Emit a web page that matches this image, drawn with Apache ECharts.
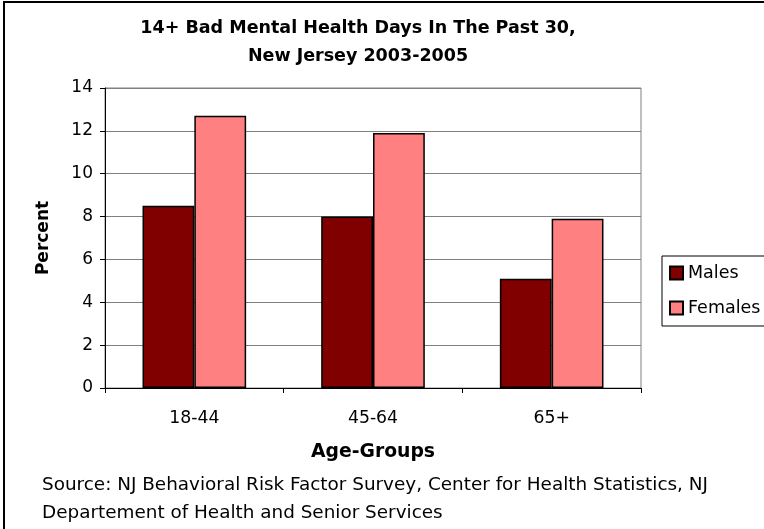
<!DOCTYPE html>
<html><head><meta charset="utf-8">
<script src="https://cdn.jsdelivr.net/npm/echarts@6/dist/echarts.min.js"></script>
<style>html,body{margin:0;padding:0;background:#fff}#c{width:764px;height:529px}</style>
</head><body><div id="c"></div>
<script>
const categories = ['18-44', '45-64', '65+'];
const males = [8.5, 8.0, 5.1];
const females = [12.7, 11.9, 7.9];
const yTicks = [0, 2, 4, 6, 8, 10, 12, 14];
const FONT = '"DejaVu Sans", "Liberation Sans", Arial, sans-serif';

const chart = echarts.init(document.getElementById('c'), null, {renderer: 'canvas'});
chart.setOption({
  backgroundColor: '#fff',
  animation: false,
  textStyle: {fontFamily: FONT},
  title: [
    {text: '14+ Bad Mental Health Days In The Past 30,\nNew Jersey 2003-2005', left: 358, top: 14, textAlign: 'center', padding: 0,
     textStyle: {fontFamily: FONT, fontSize: 17.5, fontWeight: 'bold', color: '#000', lineHeight: 28}},
    {text: 'Source: NJ Behavioral Risk Factor Survey, Center for Health Statistics, NJ\nDepartement of Health and Senior Services', left: 42, top: 471, padding: 0,
     textStyle: {fontFamily: FONT, fontSize: 18.4, fontWeight: 'normal', color: '#000', lineHeight: 28}}
  ],
  graphic: [
    {type: 'line', shape: {x1: 3, y1: 2, x2: 764, y2: 2}, style: {stroke: '#000', lineWidth: 2}, silent: true},
    {type: 'line', shape: {x1: 4, y1: 2, x2: 4, y2: 529}, style: {stroke: '#000', lineWidth: 2}, silent: true}
  ],
  legend: {
    orient: 'vertical', left: 662, top: 256,
    itemWidth: 13, itemHeight: 13, itemGap: 17,
    padding: [8, 30, 9, 7],
    borderColor: '#000', borderWidth: 1,
    icon: 'rect',
    textStyle: {fontFamily: FONT, fontSize: 17.5, color: '#000'},
    data: ['Males', 'Females']
  },
  grid: {left: 105, right: 123, top: 88, bottom: 141, show: true, borderColor: '#808080', borderWidth: 1, backgroundColor: '#fff'},
  xAxis: {
    type: 'category', data: categories,
    name: 'Age-Groups', nameLocation: 'middle', nameGap: 55,
    nameTextStyle: {fontFamily: FONT, fontSize: 18.8, fontWeight: 'bold', color: '#000'},
    axisLine: {lineStyle: {color: '#000', width: 1}},
    axisTick: {show: true, length: 5, lineStyle: {color: '#000'}},
    axisLabel: {fontFamily: FONT, fontSize: 17.3, color: '#000', margin: 22}
  },
  yAxis: {
    type: 'value', min: 0, max: 14, interval: 2,
    name: 'Percent', nameLocation: 'middle', nameGap: 53, nameRotate: 90,
    nameTextStyle: {fontFamily: FONT, fontSize: 17, fontWeight: 'bold', color: '#000'},
    axisLine: {show: true, lineStyle: {color: '#000', width: 1}},
    axisTick: {show: true, length: 5, lineStyle: {color: '#000'}},
    axisLabel: {fontFamily: FONT, fontSize: 17, color: '#000', margin: 12,
      formatter: v => yTicks.includes(v) ? String(v) : ''},
    splitLine: {show: true, lineStyle: {color: '#808080', width: 1}}
  },
  series: [
    {name: 'Males', type: 'bar', data: males, barGap: '0%', barCategoryGap: '42%',
     itemStyle: {color: '#800000', borderColor: '#000', borderWidth: 1.5}},
    {name: 'Females', type: 'bar', data: females, barGap: '0%', barCategoryGap: '42%',
     itemStyle: {color: '#FF8080', borderColor: '#000', borderWidth: 1.5}}
  ]
});
</script></body></html>
